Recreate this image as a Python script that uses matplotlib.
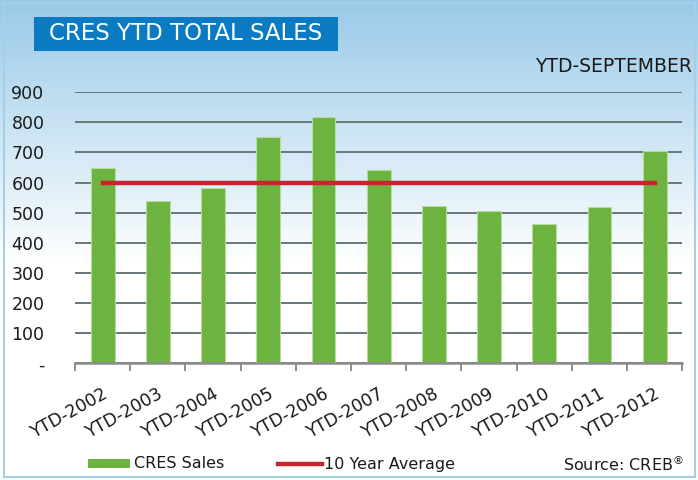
import numpy as np
import matplotlib.pyplot as plt
from matplotlib.patches import Rectangle
from matplotlib.lines import Line2D

plt.rcParams['font.family'] = ['DejaVu Sans']

years = ['YTD-2002', 'YTD-2003', 'YTD-2004', 'YTD-2005', 'YTD-2006', 'YTD-2007',
         'YTD-2008', 'YTD-2009', 'YTD-2010', 'YTD-2011', 'YTD-2012']
cres_sales = [649, 539, 582, 752, 818, 641, 523, 506, 464, 519, 705]
ten_year_avg = [599] * len(years)

yticks = [0, 100, 200, 300, 400, 500, 600, 700, 800, 900]
ytick_labels = ['-', '100', '200', '300', '400', '500', '600', '700', '800', '900']

green = '#6db33f'
red = '#c1272d'
blue = '#0a7bc2'
ink = '#1a1a1a'

fig = plt.figure(figsize=(6.98, 4.80), dpi=100)

# blue-to-white background
bg = fig.add_axes([0, 0, 1, 1], zorder=-10)
top = np.array([0.60, 0.79, 0.91])
grad = np.linspace(0, 1, 256)
fade = np.clip(grad / 0.55, 0, 1)[:, None]
img = top + (np.array([1.0, 1.0, 1.0]) - top) * fade
bg.imshow(img[:, None, :], aspect='auto', extent=[0, 1, 0, 1], origin='upper')
bg.set_xlim(0, 1)
bg.set_ylim(0, 1)
bg.axis('off')
bg.add_patch(Rectangle((0.006, 0.006), 0.99, 0.988, fill=False,
                       edgecolor='#a3cfe9', linewidth=1.5))

ax = fig.add_axes([0.1075, 0.243, 0.87, 0.565])
ax.patch.set_alpha(0)
x = np.arange(len(years))
ax.bar(x, cres_sales, width=0.43, color=green, edgecolor='#b5dc9c',
       linewidth=0.8, zorder=2)
ax.plot(x, ten_year_avg, color=red, linewidth=3.2, zorder=3)

ax.set_xlim(-0.5, len(years) - 0.5)
ax.set_ylim(0, 900)
ax.set_yticks(yticks)
ax.set_yticklabels(ytick_labels, fontsize=12.5, color=ink)
ax.tick_params(axis='y', length=0, pad=22)
ax.yaxis.grid(True, color='#66787a', linewidth=1.4, zorder=0)
ax.set_axisbelow(True)

ax.set_xticks(x)
ax.set_xticklabels(years, rotation=29, ha='right', va='top',
                   rotation_mode='anchor', fontsize=12.5, color=ink)
ax.tick_params(axis='x', length=0, pad=15)
ax.set_xticks(np.arange(-0.5, len(years)), minor=True)
ax.tick_params(axis='x', which='minor', length=6, width=1.4, color='#8c8c8c',
               direction='out')

for side in ['top', 'right', 'left']:
    ax.spines[side].set_visible(False)
ax.spines['bottom'].set_color('#8c8c8c')
ax.spines['bottom'].set_linewidth(1.8)

# title box
fig.patches.append(Rectangle((34 / 698, 1 - 51 / 480), 304 / 698, 34 / 480,
                             transform=fig.transFigure, facecolor=blue,
                             edgecolor='none'))
fig.text(186 / 698, 1 - 34 / 480, 'CRES YTD TOTAL SALES', color='white',
         fontsize=16.5, ha='center', va='center')
fig.text(692 / 698, 1 - 67 / 480, 'YTD-SEPTEMBER', color=ink,
         fontsize=13.5, ha='right', va='center')

# legend row
fig.patches.append(Rectangle((88 / 698, 1 - 468 / 480), 42 / 698, 9 / 480,
                             transform=fig.transFigure, facecolor=green,
                             edgecolor='none'))
fig.text(134 / 698, 1 - 464 / 480, 'CRES Sales', fontsize=11.5,
         color=ink, ha='left', va='center')
fig.lines.append(Line2D([278 / 698, 322 / 698], [1 - 464 / 480, 1 - 464 / 480],
                        transform=fig.transFigure, color=red, linewidth=3.2))
fig.text(324 / 698, 1 - 464 / 480, '10 Year Average', fontsize=11.5,
         color=ink, ha='left', va='center')
fig.text(684 / 698, 1 - 464 / 480, 'Source: CREB$^{\\circledR}$', fontsize=11.5,
         color=ink, ha='right', va='center')

fig.savefig('out.png', dpi=100)
